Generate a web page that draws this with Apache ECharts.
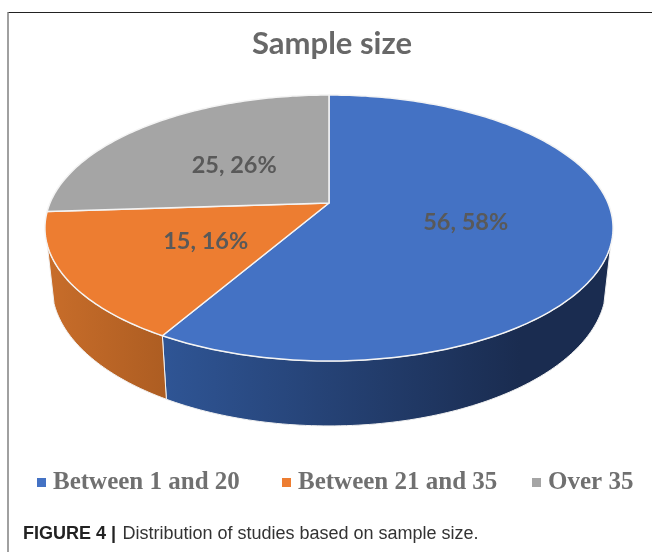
<!DOCTYPE html>
<html><head><meta charset="utf-8">
<style>html,body{margin:0;padding:0;background:#fff}#c{width:652px;height:552px}</style>
<script src="https://cdn.jsdelivr.net/npm/echarts@6/dist/echarts.min.js"></script>
</head><body><div id="c"></div>
<script>
const categories = ['Between 1 and 20', 'Between 21 and 35', 'Over 35'];
const counts = [56, 15, 25];
const colors = ['#4472C4', '#ED7D31', '#A5A5A5'];
const wallLeft = ['#2F5595', '#C86D2A', '#777777'];
const wallRight = ['#1A2C50', '#AD5D22', '#777777'];
const legendLefts = [32, 277, 527];
const totalCount = counts.reduce((a, b) => a + b, 0);

// projected disc (a tilted circle seen in perspective)
const CX = 329, CY = 203, A = 279, B = 128.3, K = 0.188;
const WALL_FROM = 108, WALL_TO = 252, STEP = 1;
function discPoint(r, deg) {
  const t = deg * Math.PI / 180, u = r * Math.sin(t), v = -r * Math.cos(t), d = 1 - K * v;
  return [CX + A * u / d, CY + B * v / d];
}
function lowerPoint(p) {
  return [CX + (p[0] - CX) * 0.976, p[1] + 58 + (p[1] - 235) * 0.055];
}
function rimArc(a0, a1) {
  const out = [];
  const n = Math.max(1, Math.ceil((a1 - a0) / STEP));
  for (let i = 0; i <= n; i++) out.push(discPoint(1, a0 + (a1 - a0) * i / n));
  return out;
}
function makeRender(idx) {
  return function (params, api) {
    const value = api.value(0);
    const before = counts.slice(0, idx).reduce((a, b) => a + b, 0);
    const a0 = before / totalCount * 360, a1 = a0 + value / totalCount * 360;
    const children = [];
    const w0 = Math.max(a0, WALL_FROM), w1 = Math.min(a1, WALL_TO);
    if (w1 > w0) {
      const rim = rimArc(w0, w1);
      const pts = rim.concat(rim.slice().reverse().map(lowerPoint));
      const xs = pts.map(p => p[0]);
      children.push({
        type: 'polygon', shape: { points: pts },
        style: {
          fill: {
            type: 'linear', global: true,
            x: Math.min.apply(null, xs), y: 0, x2: idx === 0 ? 520 : Math.max.apply(null, xs), y2: 0,
            colorStops: [{ offset: 0, color: wallLeft[idx] }, { offset: 1, color: wallRight[idx] }]
          },
          stroke: '#F2F2F2', lineWidth: 1
        }
      });
    }
    children.push({
      type: 'polygon', shape: { points: [[CX, CY]].concat(rimArc(a0, a1)) },
      style: { fill: colors[idx], stroke: '#F4F4F4', lineWidth: 1.5, lineJoin: 'round' }
    });
    const lp = discPoint(0.495, (a0 + a1) / 2);
    children.push({
      type: 'text', x: lp[0], y: lp[1] + 3,
      style: {
        text: value + ', ' + Math.round(value / totalCount * 100) + '%',
        font: 'bold 23.5px Lato', fill: '#595959', align: 'center', verticalAlign: 'middle'
      }
    });
    return { type: 'group', children };
  };
}
const chart = echarts.init(document.getElementById('c'), null, { renderer: 'canvas', width: 652, height: 552 });
chart.setOption({
  animation: false,
  backgroundColor: '#fff',
  title: {
    text: 'Sample size', left: 327, top: 23, textAlign: 'center',
    textStyle: { fontFamily: 'Lato', fontWeight: 'bold', fontSize: 31, color: '#686868' }
  },
  legend: categories.map((name, i) => ({
    left: legendLefts[i], top: 465, itemWidth: 9, itemHeight: 9, icon: 'rect',
    data: [name],
    textStyle: { fontFamily: 'Liberation Serif', fontWeight: 'bold', fontSize: 25, color: '#707070', padding: [0, 0, 0, 2] }
  })),
  series: categories.map((name, i) => ({
    type: 'custom', name, coordinateSystem: 'none',
    itemStyle: { color: colors[i] },
    renderItem: makeRender(i),
    data: [[counts[i]]],
    silent: true
  })),
  graphic: [
    { type: 'line', shape: { x1: 8, y1: 12.5, x2: 652, y2: 12.5 }, style: { stroke: '#222', lineWidth: 1 } },
    { type: 'line', shape: { x1: 8, y1: 12, x2: 8, y2: 552 }, style: { stroke: '#808080', lineWidth: 1.5 } },
    {
      type: 'text', left: 23, top: 525,
      style: {
        text: '{b|FIGURE 4 |} {r|Distribution of studies based on sample size.}',
        rich: {
          b: { font: 'bold 18px "Liberation Sans"', fill: '#222' },
          r: { font: '18px "Liberation Sans"', fill: '#333', padding: [0, 0, 0, 3] }
        }
      }
    }
  ]
});
</script></body></html>
